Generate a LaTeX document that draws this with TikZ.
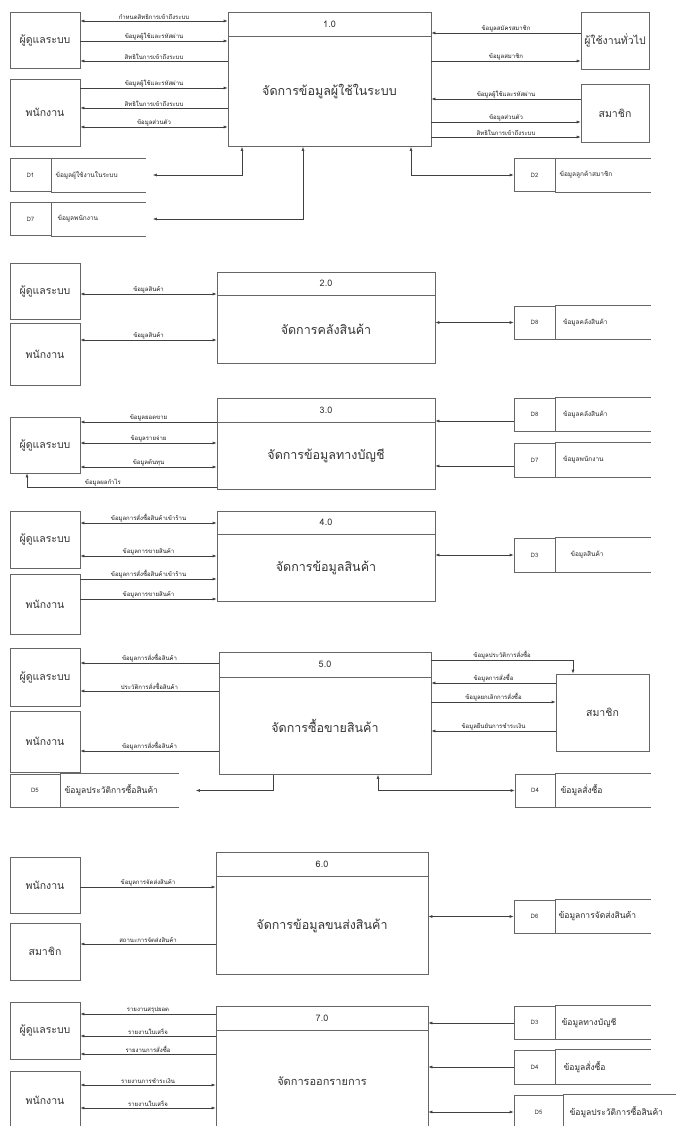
\documentclass[tikz,border=0pt]{standalone}
\usepackage{fontspec}
\setmainfont{Loma}[Script=Thai]
\usetikzlibrary{arrows.meta,positioning}

\tikzset{
  ent/.style={draw=black!60, minimum width=70, inner sep=0, text=black!80, font=\fontsize{10.5}{12}\selectfont},
  phead/.style={draw=black!60, minimum height=24, inner sep=0, text=black!80, font=\fontsize{9}{10}\selectfont},
  pbody/.style={draw=black!60, inner sep=0, text=black!80, font=\fontsize{12.5}{14}\selectfont},
  sid/.style={draw=black!60, minimum width=41, minimum height=33, inner sep=0, text=black!80, font=\fontsize{6}{7}\selectfont},
  stxt/.style={text width=#1, minimum height=33, inner ysep=0, inner xsep=4, align=left, text=black!85, font=\fontsize{6.5}{7}\selectfont},
  stxt/.default=87,
  big/.style={font=\fontsize{8.5}{10}\selectfont},
  sline/.style={draw=black!60},
  lbl/.style={above, inner sep=1pt, text=black!90, font=\fontsize{6}{7}\selectfont},
  one/.style={draw=black!75, -{Latex[length=4pt,width=3pt]}},
  two/.style={draw=black!75, {Latex[length=4pt,width=3pt]}-{Latex[length=4pt,width=3pt]}}
}

\begin{document}
\begin{tikzpicture}[x=1pt, y=-1pt, line width=0.6pt]
\useasboundingbox (0,0) rectangle (676,1126);
\clip (0,0) rectangle (676,1126);

% 1.0
\node[ent, minimum height=56] (a1) at (45,40) {ผู้ดูแลระบบ};
\node[ent, minimum height=67] (e1) at (45,112.5) {พนักงาน};
\node[ent, minimum width=68, minimum height=57] (u1) at (615,40.5) {ผู้ใช้งานทั่วไป};
\node[ent, minimum width=68, minimum height=58] (m1) at (615,113) {สมาชิก};
\node[phead, minimum width=203] (h1) at (329.5,24) {1.0};
\node[pbody, minimum width=203, minimum height=110, below=0pt of h1] (p1) {จัดการข้อมูลผู้ใช้ในระบบ};

\draw[two] (a1.east |- 0,21) -- node[lbl] {กำหนดสิทธิการเข้าถึงระบบ} (p1.west |- 0,21);
\draw[one] (a1.east |- 0,41) -- node[lbl] {ข้อมูลผู้ใช้และรหัสผ่าน} (p1.west |- 0,41);
\draw[one] (p1.west |- 0,61) -- node[lbl] {สิทธิในการเข้าถึงระบบ} (a1.east |- 0,61);
\draw[one] (e1.east |- 0,88) -- node[lbl] {ข้อมูลผู้ใช้และรหัสผ่าน} (p1.west |- 0,88);
\draw[one] (p1.west |- 0,108) -- node[lbl] {สิทธิในการเข้าถึงระบบ} (e1.east |- 0,108);
\draw[two] (e1.east |- 0,127) -- node[lbl] {ข้อมูลส่วนตัว} (p1.west |- 0,127);

\draw[one] (u1.west |- 0,33) -- node[lbl] {ข้อมูลสมัครสมาชิก} (p1.east |- 0,33);
\draw[one] (p1.east |- 0,61) -- node[lbl] {ข้อมูลสมาชิก} (u1.west |- 0,61);
\draw[one] (m1.west |- 0,99) -- node[lbl] {ข้อมูลผู้ใช้และรหัสผ่าน} (p1.east |- 0,99);
\draw[one] (p1.east |- 0,122) -- node[lbl] {ข้อมูลส่วนตัว} (m1.west |- 0,122);
\draw[one] (p1.east |- 0,137) -- node[lbl] {สิทธิในการเข้าถึงระบบ} (m1.west |- 0,137);

\node[sid] (d1) at (30.5,175) {D1};
\node[stxt=86, right=0pt of d1] (d1t) {ข้อมูลผู้ใช้งานในระบบ};
\node[sid] (d7) at (30.5,219) {D7};
\node[stxt=82, right=0pt of d7, inner xsep=6] (d7t) {ข้อมูลพนักงาน};
\node[sid] (d2) at (534.5,175) {D2};
\node[stxt, right=0pt of d2] (d2t) {ข้อมูลลูกค้าสมาชิก};
\draw[sline] (d1t.north west) -- (d1t.north east) (d1t.south west) -- (d1t.south east)
             (d7t.north west) -- (d7t.north east) (d7t.south west) -- (d7t.south east)
             (d2t.north west) -- (d2t.north east) (d2t.south west) -- (d2t.south east);
\draw[two] (p1.south -| 242,0) |- ([xshift=7]d1t.east);
\draw[two] (p1.south -| 303,0) |- ([xshift=7]d7t.east);
\draw[two] (p1.south -| 411,0) |- (d2.west);

% 2.0
\node[ent, minimum height=56] (a2) at (45,291) {ผู้ดูแลระบบ};
\node[ent, minimum height=62] (e2) at (45,354) {พนักงาน};
\node[phead, minimum width=218, minimum height=23] (h2) at (326,283.5) {2.0};
\node[pbody, minimum width=218, minimum height=68, below=0pt of h2] (p2) {จัดการคลังสินค้า};
\draw[two] (a2.east |- 0,294) -- node[lbl] {ข้อมูลสินค้า} (p2.west |- 0,294);
\draw[two] (e2.east |- 0,340) -- node[lbl] {ข้อมูลสินค้า} (p2.west |- 0,340);
\node[sid] (d8) at (534.5,322.5) {D8};
\node[stxt=80, right=0pt of d8, inner xsep=7.5] (d8t) {ข้อมูลคลังสินค้า};
\draw[sline] (d8t.north west) -- (d8t.north east) (d8t.south west) -- (d8t.south east);
\draw[two] (p2.east |- d8.west) -- (d8.west);

% 3.0
\node[ent, minimum height=56] (a3) at (45,445) {ผู้ดูแลระบบ};
\node[phead, minimum width=218] (h3) at (326,410) {3.0};
\node[pbody, minimum width=218, minimum height=67, below=0pt of h3] (p3) {จัดการข้อมูลทางบัญชี};
\draw[one] (p3.west |- 0,422) -- node[lbl] {ข้อมูลยอดขาย} (a3.east |- 0,422);
\draw[two] (a3.east |- 0,443) -- node[lbl] {ข้อมูลรายจ่าย} (p3.west |- 0,443);
\draw[two] (a3.east |- 0,467) -- node[lbl] {ข้อมูลต้นทุน} (p3.west |- 0,467);
\draw[one] (p3.west |- 0,487) -| node[lbl, pos=0.3] {ข้อมูลผลกำไร} (a3.south -| 27,0);
\node[sid] (d8b) at (534.5,414.5) {D8};
\node[stxt=80, right=0pt of d8b, inner xsep=7.5] (d8bt) {ข้อมูลคลังสินค้า};
\node[sid, minimum height=34] (d7b) at (534.5,460) {D7};
\node[stxt=80, right=0pt of d7b, inner xsep=7.5, minimum height=34] (d7bt) {ข้อมูลพนักงาน};
\draw[sline] (d8bt.north west) -- (d8bt.north east) (d8bt.south west) -- (d8bt.south east)
             (d7bt.north west) -- (d7bt.north east) (d7bt.south west) -- (d7bt.south east);
\draw[one] (d8b.west |- 0,421) -- (p3.east |- 0,421);
\draw[one] (d7b.west |- 0,466) -- (p3.east |- 0,466);

% 4.0
\node[ent, minimum height=57] (a4) at (45,539.5) {ผู้ดูแลระบบ};
\node[ent, minimum height=60] (e4) at (45,604) {พนักงาน};
\node[phead, minimum width=218, minimum height=23] (h4) at (326,522.5) {4.0};
\node[pbody, minimum width=218, minimum height=67, below=0pt of h4] (p4) {จัดการข้อมูลสินค้า};
\draw[two] (a4.east |- 0,523) -- node[lbl] {ข้อมูลการสั่งซื้อสินค้าเข้าร้าน} (p4.west |- 0,523);
\draw[two] (a4.east |- 0,556) -- node[lbl] {ข้อมูลการขายสินค้า} (p4.west |- 0,556);
\draw[one] (e4.east |- 0,579) -- node[lbl] {ข้อมูลการสั่งซื้อสินค้าเข้าร้าน} (p4.west |- 0,579);
\draw[one] (e4.east |- 0,599) -- node[lbl] {ข้อมูลการขายสินค้า} (p4.west |- 0,599);
\node[sid, minimum height=34] (d3) at (534.5,555) {D3};
\node[stxt=65, right=0pt of d3, inner xsep=15, minimum height=34] (d3t) {ข้อมูลสินค้า};
\draw[sline] (d3t.north west) -- (d3t.north east) (d3t.south west) -- (d3t.south east);
\draw[two] (p4.east |- d3.west) -- (d3.west);

% 5.0
\node[ent, minimum height=58] (a5) at (45,677) {ผู้ดูแลระบบ};
\node[ent, minimum height=61] (e5) at (45,741.5) {พนักงาน};
\node[ent, minimum width=93, minimum height=77] (m5) at (602.5,712.5) {สมาชิก};
\node[phead, minimum width=212, minimum height=25] (h5) at (325,664.5) {5.0};
\node[pbody, minimum width=212, minimum height=97, below=0pt of h5] (p5) {จัดการซื้อขายสินค้า};
\draw[one] (p5.west |- 0,663) -- node[lbl] {ข้อมูลการสั่งซื้อสินค้า} (a5.east |- 0,663);
\draw[one] (p5.west |- 0,691) -- node[lbl] {ประวัติการสั่งซื้อสินค้า} (a5.east |- 0,691);
\draw[one] (p5.west |- 0,751) -- node[lbl] {ข้อมูลการสั่งซื้อสินค้า} (e5.east |- 0,751);
\draw[one] (p5.east |- 0,660) -| node[lbl, pos=0.25] {ข้อมูลประวัติการสั่งซื้อ} (m5.north -| 573,0);
\draw[one] (m5.west |- 0,683) -- node[lbl] {ข้อมูลการสั่งซื้อ} (p5.east |- 0,683);
\draw[one] (p5.east |- 0,702) -- node[lbl] {ข้อมูลยกเลิกการสั่งซื้อ} (m5.west |- 0,702);
\draw[one] (m5.west |- 0,731) -- node[lbl] {ข้อมูลยืนยันการชำระเงิน} (p5.east |- 0,731);
\node[sid, minimum width=50] (d5) at (35,790.5) {D5};
\node[stxt=110, right=0pt of d5, big] (d5t) {ข้อมูลประวัติการซื้อสินค้า};
\node[sid, minimum width=40] (d4) at (535,790.5) {D4};
\node[stxt=85, right=0pt of d4, big, inner xsep=5] (d4t) {ข้อมูลสั่งซื้อ};
\draw[sline] (d5t.north west) -- (d5t.north east) (d5t.south west) -- (d5t.south east)
             (d4t.north west) -- (d4t.north east) (d4t.south west) -- (d4t.south east);
\draw[one] (p5.south -| 273,0) |- ([xshift=17]d5t.east);
\draw[two] (p5.south -| 378,0) |- (d4.west);

% 6.0
\node[ent, minimum height=56] (e6) at (45,885) {พนักงาน};
\node[ent, minimum height=57] (m6) at (45,951.5) {สมาชิก};
\node[phead, minimum width=212] (h6) at (322,864) {6.0};
\node[pbody, minimum width=212, minimum height=98, below=0pt of h6] (p6) {จัดการข้อมูลขนส่งสินค้า};
\draw[one] (e6.east |- 0,887) -- node[lbl] {ข้อมูลการจัดส่งสินค้า} (p6.west |- 0,887);
\draw[one] (p6.west |- 0,944) -- node[lbl] {สถานะการจัดส่งสินค้า} (m6.east |- 0,944);
\node[sid] (d6) at (534.5,916.5) {D6};
\node[stxt=89, right=0pt of d6, big, inner xsep=3] (d6t) {ข้อมูลการจัดส่งสินค้า};
\draw[sline] (d6t.north west) -- (d6t.north east) (d6t.south west) -- (d6t.south east);
\draw[two] (p6.east |- d6.west) -- (d6.west);

% 7.0
\node[ent, minimum height=57] (a7) at (45,1030.5) {ผู้ดูแลระบบ};
\node[ent, minimum height=58] (e7) at (45,1100) {พนักงาน};
\node[phead, minimum width=212] (h7) at (322,1018) {7.0};
\node[pbody, minimum width=212, minimum height=102, below=0pt of h7, font=\fontsize{11}{13}\selectfont] (p7) {จัดการออกรายการ};
\draw[one] (p7.west |- 0,1014) -- node[lbl] {รายงานสรุปยอด} (a7.east |- 0,1014);
\draw[one] (p7.west |- 0,1036) -- node[lbl] {รายงานใบเสร็จ} (a7.east |- 0,1036);
\draw[one] (p7.west |- 0,1054) -- node[lbl] {รายงานการสั่งซื้อ} (a7.east |- 0,1054);
\draw[two] (e7.east |- 0,1085) -- node[lbl] {รายงานการชำระเงิน} (p7.west |- 0,1085);
\draw[two] (e7.east |- 0,1108) -- node[lbl] {รายงานใบเสร็จ} (p7.west |- 0,1108);
\node[sid] (d3b) at (534.5,1022.5) {D3};
\node[stxt=83, right=0pt of d3b, big, inner xsep=6] (d3bt) {ข้อมูลทางบัญชี};
\node[sid, minimum height=34] (d4b) at (534.5,1067) {D4};
\node[stxt=79, right=0pt of d4b, big, inner xsep=8, minimum height=34] (d4bt) {ข้อมูลสั่งซื้อ};
\node[sid, minimum width=49, minimum height=34] (d5b) at (538.5,1112) {D5};
\node[stxt=120, right=0pt of d5b, big, inner xsep=6, minimum height=34] (d5bt) {ข้อมูลประวัติการซื้อสินค้า};
\draw[sline] (d3bt.north west) -- (d3bt.north east) (d3bt.south west) -- (d3bt.south east)
             (d4bt.north west) -- (d4bt.north east) (d4bt.south west) -- (d4bt.south east)
             (d5bt.north west) -- (d5bt.north east);
\draw[one] (d3b.west |- 0,1023) -- (p7.east |- 0,1023);
\draw[one] (d4b.west |- 0,1067) -- (p7.east |- 0,1067);
\draw[two] (p7.east |- d5b.west) -- (d5b.west);
\end{tikzpicture}
\end{document}
